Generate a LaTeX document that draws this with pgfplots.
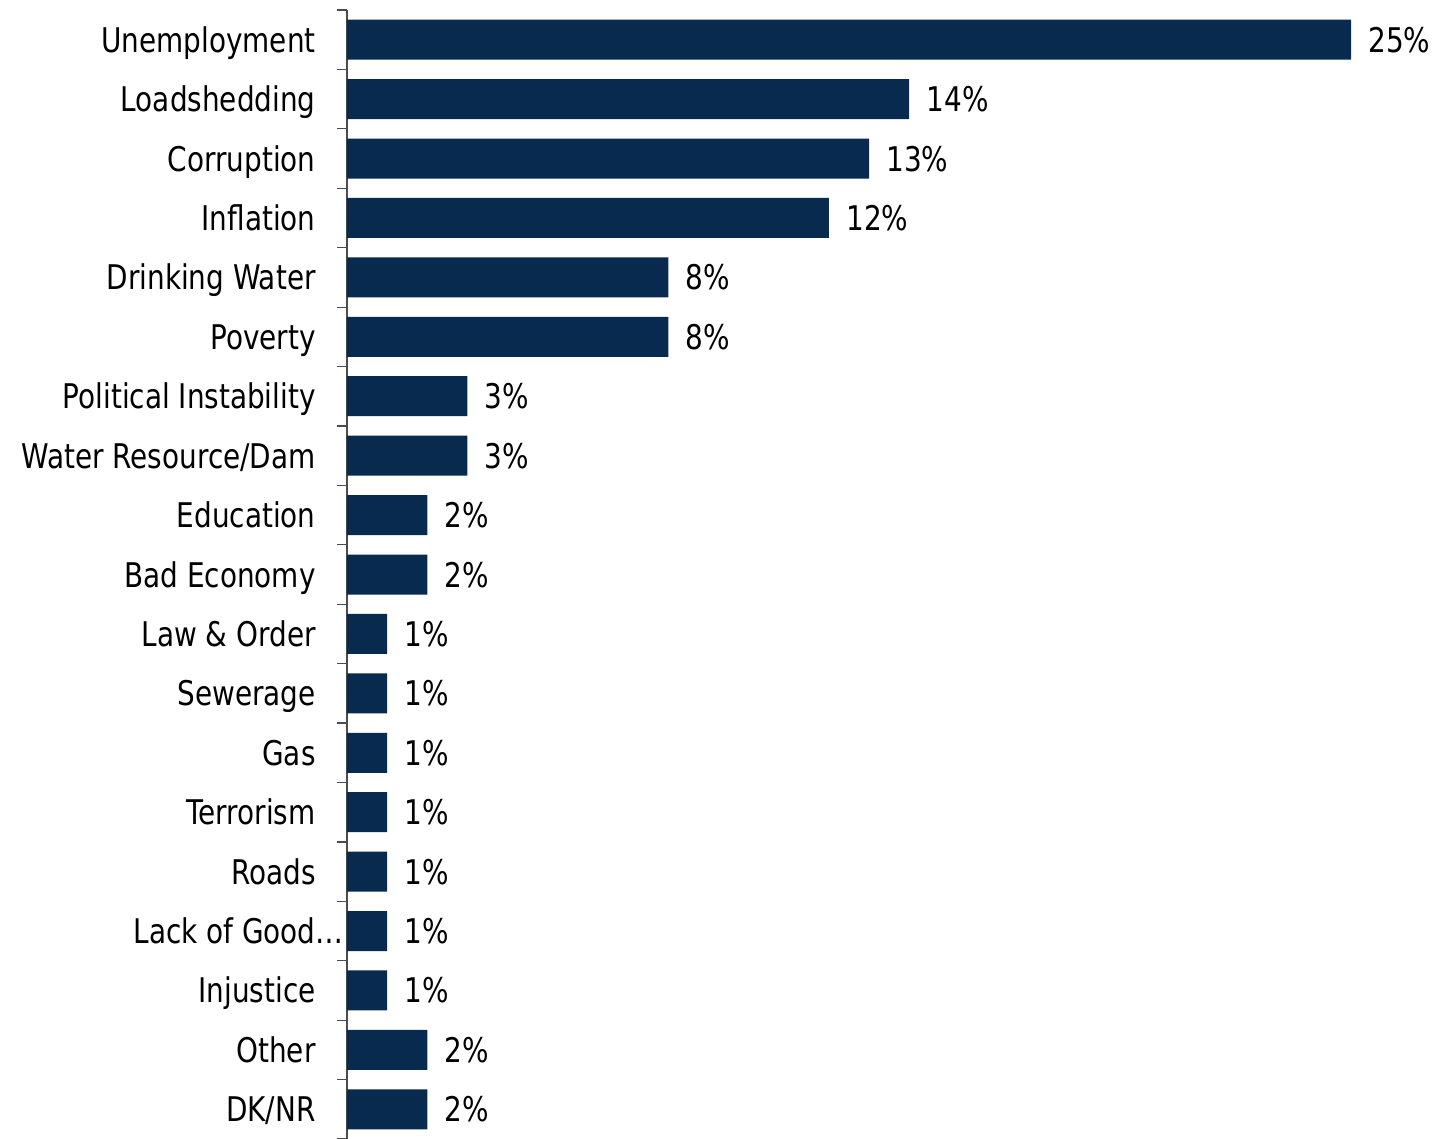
\documentclass[border=0pt]{standalone}
\usepackage{pgfplots}
\pgfplotsset{compat=1.18}
\usepackage{fontspec}
\setmainfont[FakeStretch=0.82]{DejaVu Sans}
\definecolor{barc}{HTML}{082A4E}
\begin{document}
\begin{tikzpicture}
\begin{axis}[
 name=ax, scale only axis, width=502pt, height=564.5pt,
 xbar, bar width=20pt,
 xmin=0, xmax=25, ymin=-0.5, ymax=18.5, y dir=reverse,
 axis x line=none, axis y line*=left,
 y axis line style={draw=black!70, line width=0.6pt},
 /pgf/number format/assume math mode=true,
 ytick={0,...,18},
 yticklabels={Unemployment,Loadshedding,Corruption,Inflation,Drinking Water,Poverty,Political Instability,Water Resource/Dam,Education,Bad Economy,Law \& Order,Sewerage,Gas,Terrorism,Roads,Lack of Good\rlap{\ldots},Injustice,Other,DK/NR},
 major tick length=0pt,
 minor ytick={-0.5,0.5,...,18.5},
 minor tick length=5pt, tick align=outside,
 minor tick style={black!70, line width=0.6pt},
 yticklabel style={font=\fontsize{17}{20}\selectfont, inner sep=0pt, xshift=-15.5pt, text height=12.5pt, text depth=0pt, anchor=east},
 nodes near coords={\pgfmathprintnumber{\pgfplotspointmeta}\%},
 point meta=x,
 nodes near coords style={font=\fontsize{17}{20}\selectfont, anchor=west, inner sep=0pt, xshift=8.5pt, text height=12.5pt, text depth=0pt},
 clip=false,
]
\addplot[fill=barc, draw=none] coordinates {(25,0) (14,1) (13,2) (12,3) (8,4) (8,5) (3,6) (3,7) (2,8) (2,9) (1,10) (1,11) (1,12) (1,13) (1,14) (1,15) (1,16) (2,17) (2,18)};
\end{axis}
\pgfresetboundingbox
\path (ax.south west) ++(-173.5pt,0pt) rectangle ++(717.5pt,569.5pt);
\end{tikzpicture}
\end{document}
